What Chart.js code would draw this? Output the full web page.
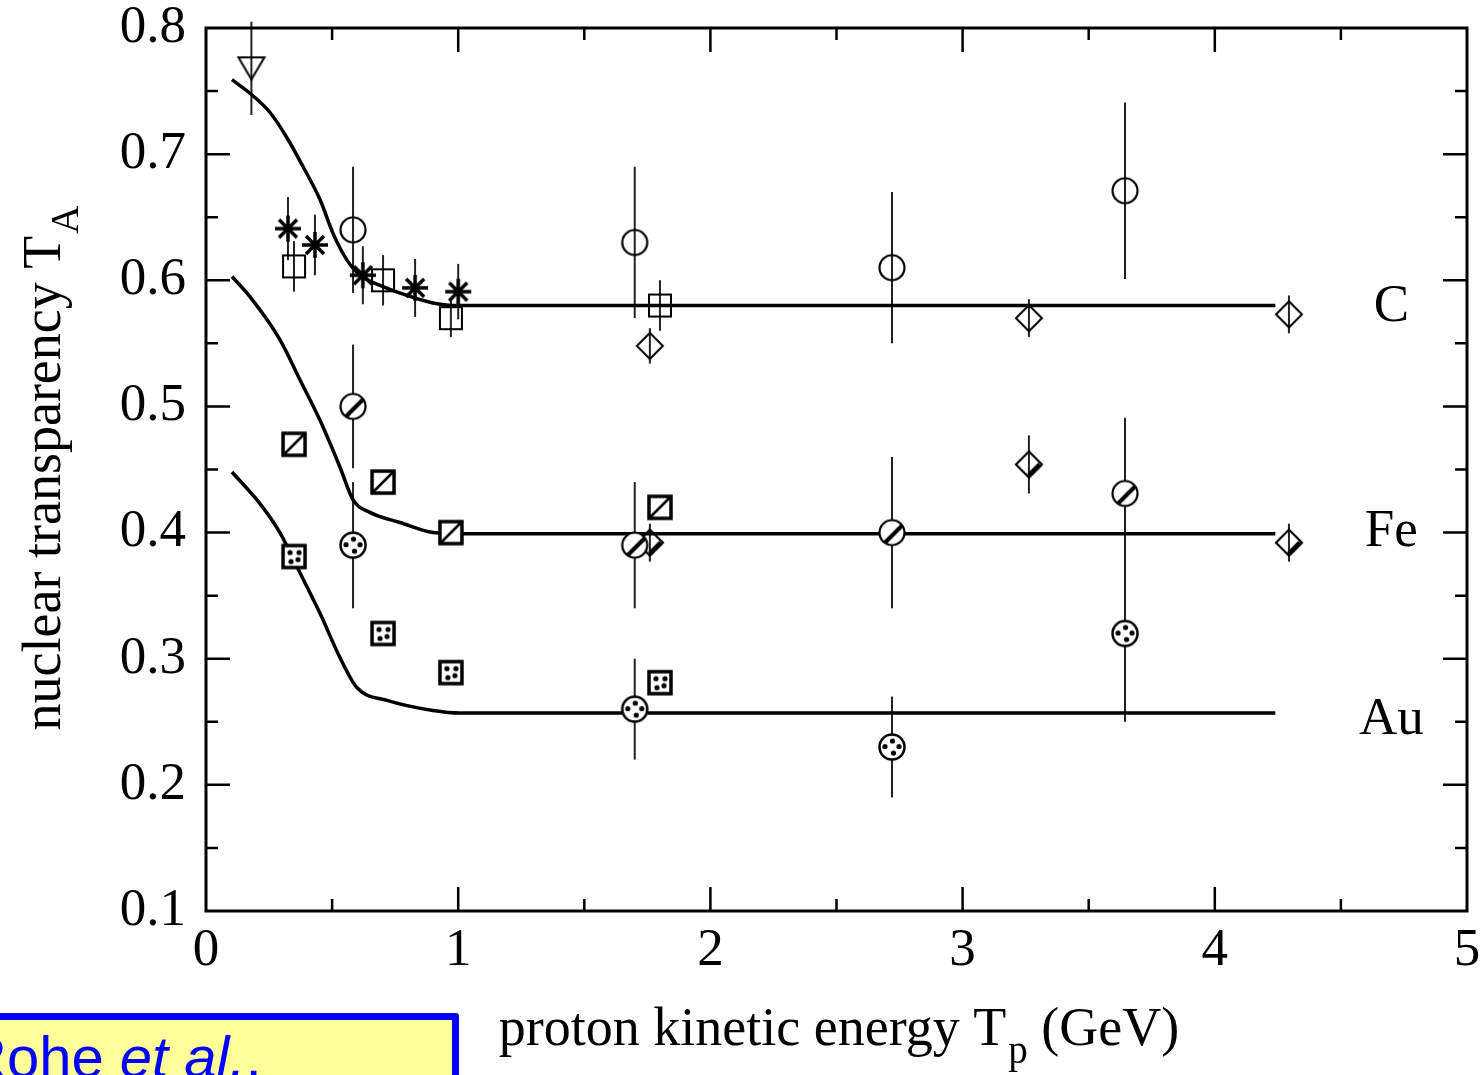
<!DOCTYPE html>
<html>
<head>
<meta charset="utf-8">
<script src="https://cdn.jsdelivr.net/npm/chart.js@4.4.1/dist/chart.umd.min.js"></script>
<style>
  body { margin: 0; background: #fff; overflow: hidden; }
  #wrap { position: relative; width: 1481px; height: 1075px; overflow: hidden; }
  #ref {
    position: absolute; left: -12px; top: 1013px; width: 471px; height: 100px;
    background: #ffff99; border: 7px solid #0000ff; box-sizing: border-box;
    border-radius: 3px;
  }
  #ref span {
    position: absolute; left: -30px; top: 8px;
    font-family: "Liberation Sans", Arial, sans-serif; font-size: 58px; color: #0000ff;
    line-height: 1; white-space: nowrap;
  }
</style>
</head>
<body>
<div id="wrap">
  <canvas id="chart" width="1481" height="1075"></canvas>
  <div id="ref"><span>Rohe <i>et al.</i>,</span></div>
</div>
<script>
// Kohlenstoff (C)
const cTriX = [0.18];
const cTriY = [0.768];
const cTriErr = [0.037];
const cStarX = [0.325, 0.432, 0.622, 0.829, 1.0];
const cStarY = [0.641, 0.628, 0.604, 0.594, 0.591];
const cStarErr = [0.025, 0.024, 0.023, 0.023, 0.022];
const cSqX = [0.349, 0.702, 0.971, 1.80];
const cSqY = [0.611, 0.600, 0.570, 0.580];
const cSqErr = [0.02, 0.02, 0.015, 0.02];
const cCircX = [0.583, 1.70, 2.72, 3.644];
const cCircY = [0.640, 0.630, 0.610, 0.671];
const cCircErr = [0.05, 0.06, 0.06, 0.07];
const cDiaX = [1.76, 3.263, 4.294];
const cDiaY = [0.548, 0.570, 0.573];
const cDiaErr = [0.014, 0.015, 0.015];

// Eisen (Fe)
const feSqX = [0.349, 0.702, 0.971, 1.80];
const feSqY = [0.470, 0.440, 0.400, 0.420];
const feCircX = [0.583, 1.70, 2.72, 3.644];
const feCircY = [0.500, 0.390, 0.400, 0.431];
const feCircErr = [0.049, 0.05, 0.06, 0.06];
const feDiaX = [1.76, 3.263, 4.294];
const feDiaY = [0.392, 0.454, 0.392];
const feDiaErr = [0.015, 0.023, 0.015];

// Gold (Au)
const auSqX = [0.349, 0.702, 0.971, 1.80];
const auSqY = [0.381, 0.320, 0.289, 0.281];
const auCircX = [0.583, 1.70, 2.72, 3.644];
const auCircY = [0.390, 0.260, 0.230, 0.320];
const auCircErr = [0.05, 0.04, 0.04, 0.07];

// Theoriekurven
const cCurveX = [0.103, 0.182, 0.254, 0.321, 0.385, 0.452, 0.504, 0.559, 0.611, 0.690, 0.797, 0.900, 0.979, 4.24];
const cCurveY = [0.759, 0.747, 0.733, 0.713, 0.690, 0.664, 0.637, 0.616, 0.604, 0.596, 0.588, 0.582, 0.580, 0.580];
const feCurveX = [0.103, 0.174, 0.293, 0.373, 0.452, 0.531, 0.583, 0.650, 0.769, 0.900, 1.007, 4.24];
const feCurveY = [0.603, 0.587, 0.553, 0.521, 0.489, 0.452, 0.426, 0.416, 0.408, 0.400, 0.399, 0.399];
const auCurveX = [0.103, 0.214, 0.293, 0.373, 0.452, 0.531, 0.599, 0.718, 0.900, 1.007, 4.24];
const auCurveY = [0.448, 0.423, 0.400, 0.368, 0.336, 0.301, 0.277, 0.267, 0.259, 0.257, 0.257];

// Beschriftung der Kurven
const curveNames = ['C', 'Fe', 'Au'];
const curveNameX = [4.70, 4.70, 4.70];
const curveNameY = [0.579, 0.400, 0.251];

const serif = '"Liberation Serif", "Times New Roman", serif';

function pts(xs, ys) {
    return xs.map((x, i) => ({ x: x, y: ys[i] }));
}

// kleine Canvas-Symbole bauen
function marker(size, draw) {
    const c = document.createElement('canvas');
    c.width = size; c.height = size;
    const g = c.getContext('2d');
    g.translate(size / 2, size / 2);
    g.strokeStyle = '#000';
    g.fillStyle = '#000';
    draw(g);
    return c;
}
function dots(g, list, r) {
    for (const [dx, dy] of list) {
        g.beginPath(); g.arc(dx, dy, r, 0, Math.PI * 2); g.fill();
    }
}

const openCircle = marker(32, g => {
    g.lineWidth = 2.2;
    g.beginPath(); g.arc(0, 0, 12.5, 0, Math.PI * 2); g.stroke();
});
const hatchCircle = marker(32, g => {
    g.fillStyle = '#fff';
    g.beginPath(); g.arc(0, 0, 12.5, 0, Math.PI * 2); g.fill();
    g.lineWidth = 2.2; g.stroke();
    g.save(); g.clip();
    g.lineWidth = 4;
    g.beginPath(); g.moveTo(-8, 11); g.lineTo(11, -8); g.stroke();
    g.restore();
});
const dotCircle = marker(32, g => {
    g.fillStyle = '#fff';
    g.beginPath(); g.arc(0, 0, 12.5, 0, Math.PI * 2); g.fill();
    g.lineWidth = 2.5; g.stroke();
    g.fillStyle = '#000';
    dots(g, [[-7, -0.5], [7, -0.5], [0.5, -6], [1.5, 6]], 2.6);
});
const openSquare = marker(30, g => {
    g.lineWidth = 2;
    g.strokeRect(-11, -11, 22, 22);
});
const hatchSquare = marker(30, g => {
    g.fillStyle = '#fff'; g.fillRect(-11, -11, 22, 22);
    g.lineWidth = 3.5; g.strokeRect(-11, -11, 22, 22);
    g.lineWidth = 2.5;
    g.beginPath(); g.moveTo(-10, 10); g.lineTo(10, -10); g.stroke();
});
const dotSquare = marker(30, g => {
    g.fillStyle = '#fff'; g.fillRect(-11, -11, 22, 22);
    g.lineWidth = 3.5; g.strokeRect(-11, -11, 22, 22);
    g.fillStyle = '#000';
    dots(g, [[-4, -4], [4, 3], [-3, 5], [5, -4]], 2.6);
});
const openDiamond = marker(32, g => {
    g.lineWidth = 2;
    g.beginPath(); g.moveTo(0, -13); g.lineTo(13, 0); g.lineTo(0, 13); g.lineTo(-13, 0); g.closePath(); g.stroke();
});
const halfDiamond = marker(32, g => {
    g.lineWidth = 2.2;
    g.beginPath(); g.moveTo(0, -13); g.lineTo(13, 0); g.lineTo(0, 13); g.lineTo(-13, 0); g.closePath(); g.stroke();
    g.lineWidth = 5;
    g.beginPath(); g.moveTo(11, 0); g.lineTo(0, 11); g.stroke();
});
const triDown = marker(32, g => {
    g.lineWidth = 2;
    g.beginPath(); g.moveTo(-13, -11); g.lineTo(13, -11); g.lineTo(0, 11); g.closePath(); g.stroke();
});
const asterisk = marker(32, g => {
    g.lineWidth = 3.5;
    g.beginPath();
    g.moveTo(-13, 0); g.lineTo(13, 0);
    g.moveTo(0, -13); g.lineTo(0, 13);
    g.moveTo(-9, -9); g.lineTo(9, 9);
    g.moveTo(-9, 9); g.lineTo(9, -9);
    g.stroke();
});

function markerSet(xs, ys, errs, style) {
    return {
        data: pts(xs, ys),
        errors: errs,
        showLine: false,
        pointStyle: style,
        pointRadius: 12,
        order: 0
    };
}
function curveSet(xs, ys) {
    return {
        data: pts(xs, ys),
        showLine: true,
        borderColor: '#000',
        borderWidth: 3.5,
        pointRadius: 0,
        cubicInterpolationMode: 'monotone',
        fill: false,
        order: 10
    };
}

// Fehlerbalken unter die Symbole zeichnen
const errorBars = {
    id: 'errorBars',
    beforeDatasetsDraw(chart) {
        const ctx = chart.ctx;
        const xs = chart.scales.x, ys = chart.scales.y;
        ctx.save();
        ctx.strokeStyle = '#222';
        ctx.lineWidth = 2;
        chart.data.datasets.forEach(ds => {
            if (!ds.errors) return;
            ds.data.forEach((p, i) => {
                const e = ds.errors[i];
                if (!e) return;
                const px = xs.getPixelForValue(p.x);
                ctx.beginPath();
                ctx.moveTo(px, ys.getPixelForValue(p.y + e));
                ctx.lineTo(px, ys.getPixelForValue(p.y - e));
                ctx.stroke();
            });
        });
        ctx.restore();
    }
};

// Rahmen mit Ticks nach innen auf allen vier Seiten
const frame = {
    id: 'frame',
    afterDraw(chart) {
        const ctx = chart.ctx;
        const a = chart.chartArea;
        const xs = chart.scales.x, ys = chart.scales.y;
        ctx.save();
        ctx.strokeStyle = '#000';
        ctx.lineWidth = 3;
        ctx.strokeRect(a.left, a.top, a.right - a.left, a.bottom - a.top);
        ctx.lineWidth = 2.5;
        ctx.beginPath();
        for (let k = 1; k < 10; k++) {
            const px = xs.getPixelForValue(k * 0.5);
            const len = k % 2 === 0 ? 24 : 12;
            ctx.moveTo(px, a.bottom); ctx.lineTo(px, a.bottom - len);
            ctx.moveTo(px, a.top); ctx.lineTo(px, a.top + len);
        }
        for (let k = 1; k < 14; k++) {
            const py = ys.getPixelForValue(0.1 + k * 0.05);
            const len = k % 2 === 0 ? 24 : 12;
            ctx.moveTo(a.left, py); ctx.lineTo(a.left + len, py);
            ctx.moveTo(a.right, py); ctx.lineTo(a.right - len, py);
        }
        ctx.stroke();

        // Namen der Kerne
        ctx.fillStyle = '#000';
        ctx.font = '53px ' + serif;
        ctx.textAlign = 'center';
        ctx.textBaseline = 'middle';
        curveNames.forEach((n, i) => {
            ctx.fillText(n, xs.getPixelForValue(curveNameX[i]), ys.getPixelForValue(curveNameY[i]));
        });

        // Achsentitel mit Index
        function subText(main, sub, tail, size) {
            const subSize = Math.round(size * 0.72);
            ctx.font = size + 'px ' + serif;
            const w1 = ctx.measureText(main).width;
            ctx.font = subSize + 'px ' + serif;
            const w2 = ctx.measureText(sub).width;
            ctx.font = size + 'px ' + serif;
            const w3 = ctx.measureText(tail).width;
            let x = -(w1 + w2 + w3) / 2;
            ctx.textAlign = 'left';
            ctx.textBaseline = 'alphabetic';
            ctx.fillText(main, x, 0);
            x += w1 + 2;
            ctx.font = subSize + 'px ' + serif;
            ctx.fillText(sub, x, size * 0.33);
            x += w2;
            ctx.font = size + 'px ' + serif;
            ctx.fillText(tail, x, 0);
        }
        ctx.save();
        ctx.translate(838, 1045);
        subText('proton kinetic energy T', 'p', ' (GeV)', 54);
        ctx.restore();
        ctx.save();
        ctx.translate(60, 469);
        ctx.rotate(-Math.PI / 2);
        subText('nuclear transparency T', 'A', '', 54);
        ctx.restore();
        ctx.restore();
    }
};

const ctx = document.getElementById('chart');
new Chart(ctx, {
    type: 'scatter',
    data: {
        datasets: [
            markerSet(cTriX, cTriY, cTriErr, triDown),
            markerSet(cStarX, cStarY, cStarErr, asterisk),
            markerSet(cSqX, cSqY, cSqErr, openSquare),
            markerSet(cCircX, cCircY, cCircErr, openCircle),
            markerSet(cDiaX, cDiaY, cDiaErr, openDiamond),
            markerSet(feSqX, feSqY, null, hatchSquare),
            markerSet(feCircX, feCircY, feCircErr, hatchCircle),
            markerSet(feDiaX, feDiaY, feDiaErr, halfDiamond),
            markerSet(auSqX, auSqY, null, dotSquare),
            markerSet(auCircX, auCircY, auCircErr, dotCircle),
            curveSet(cCurveX, cCurveY),
            curveSet(feCurveX, feCurveY),
            curveSet(auCurveX, auCurveY)
        ]
    },
    options: {
        responsive: false,
        animation: false,
        layout: { padding: { top: 28, right: 14, left: 0, bottom: 0 } },
        plugins: {
            legend: { display: false },
            tooltip: { enabled: false }
        },
        scales: {
            x: {
                type: 'linear',
                min: 0,
                max: 5,
                grid: { display: false, drawTicks: true, tickLength: 14 },
                border: { display: false },
                ticks: {
                    stepSize: 1,
                    maxRotation: 0,
                    color: '#000',
                    padding: 0,
                    font: { family: serif, size: 53, lineHeight: 1 }
                },
                afterFit: s => { s.height = 164; }
            },
            y: {
                type: 'linear',
                min: 0.1,
                max: 0.8,
                grid: { display: false, drawTicks: true, tickLength: 20 },
                border: { display: false },
                ticks: {
                    stepSize: 0.1,
                    color: '#000',
                    padding: 0,
                    font: { family: serif, size: 53, lineHeight: 1 },
                    callback: v => v.toFixed(1)
                },
                afterFit: s => { s.width = 206; }
            }
        }
    },
    plugins: [errorBars, frame]
});
</script>
</body>
</html>
